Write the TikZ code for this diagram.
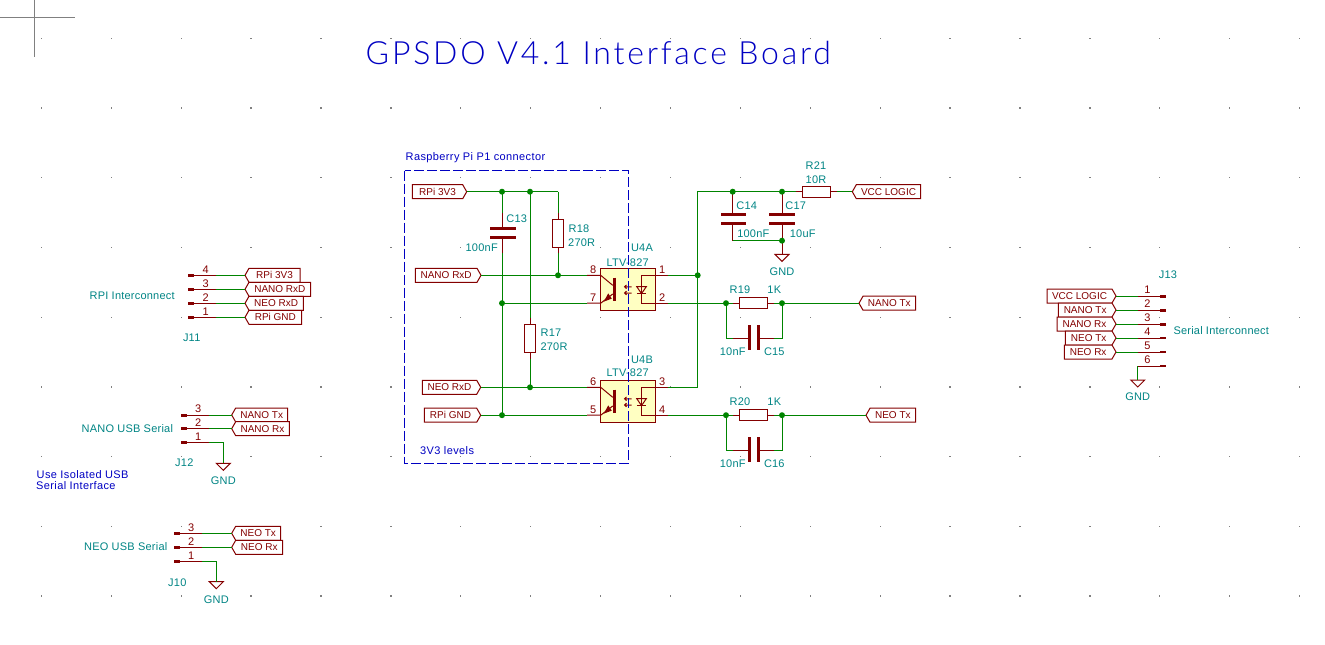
\documentclass[tikz,border=0pt]{standalone}
\usepackage{fontspec}
\setmainfont{Liberation Sans}
\newfontfamily\titlef{Lato}[UprightFont=* Light]
\definecolor{kwire}{HTML}{008400}
\definecolor{kred}{HTML}{840000}
\definecolor{kteal}{HTML}{008484}
\definecolor{kblue}{HTML}{0000C2}
\definecolor{kfill}{HTML}{FFFFC2}
\tikzset{
  wire/.style={draw=kwire,line width=1pt},
  red/.style={draw=kred,line width=1pt},
  plate/.style={draw=kred,line width=3pt},
  lab/.style={draw=kred,line width=1pt,fill=white},
  ltext/.style={text=kred,inner sep=0pt,font=\fontsize{10}{10}\selectfont},
  fld/.style={text=kteal,inner sep=0pt,font=\addfontfeatures{LetterSpace=2}\fontsize{11}{11}\selectfont},
  ptxt/.style={text=kred,inner sep=0pt,font=\fontsize{11}{11}\selectfont},
  note/.style={text=kblue,inner sep=0pt,font=\addfontfeatures{LetterSpace=3.5}\fontsize{11}{11}\selectfont},
  junc/.style={fill=kwire},
  cursor/.style={draw=gray,line width=1pt},
}
% right-pointing label: name, left x, tip x, y, text
\newcommand{\lblR}[5]{%
  \draw[lab] (#2,#4-7) -- (#3-4,#4-7) -- (#3,#4) -- (#3-4,#4+7) -- (#2,#4+7) -- cycle;
  \node[ltext] (#1t) at ({(#2+#3-4)/2},#4) {#5};
  \coordinate (#1) at (#3,#4);}
% left-pointing label: name, tip x, right x, y, text
\newcommand{\lblL}[5]{%
  \draw[lab] (#2,#4) -- (#2+4,#4-7) -- (#3,#4-7) -- (#3,#4+7) -- (#2+4,#4+7) -- cycle;
  \node[ltext] (#1t) at ({(#2+4+#3)/2},#4) {#5};
  \coordinate (#1) at (#2,#4);}
% ground: name, x, y top of symbol, y text
\newcommand{\gnd}[4]{%
  \coordinate (#1) at (#2,#3);
  \draw[red] (#2-7,#3) -- (#2+7,#3) -- (#2,#3+7) -- cycle;
  \node[fld] (#1t) at (#2,#4) {GND};}
% connector pin: name, thick-end x, pin inner x, y, number, num x
\newcommand{\cpin}[6]{%
  \coordinate (#1) at (#3,#4);
  \coordinate (#1e) at (#2,#4);
  \draw[red] (#1) -- (#1e);
  \node[ptxt] (#1n) at (#6,#4-6) {#5};}
\newcommand{\junct}[1]{\fill[junc] (#1) circle (3pt);}
% optocoupler: prefix, vertical shift, pin numbers
\newcommand{\opto}[6]{%
 \begin{scope}[yshift=-#2pt]
  \node[draw=kred,line width=1pt,fill=kfill,minimum width=55pt,minimum height=42pt,inner sep=0pt] (#1) at (628.2,289.3) {};
  \coordinate (#1a) at (587,275.3);\coordinate (#1ai) at (600.7,275.3);
  \coordinate (#1b) at (587,303.2);\coordinate (#1bi) at (600.7,303.2);
  \coordinate (#1c) at (668.3,275.3);\coordinate (#1ci) at (641.2,275.3);
  \coordinate (#1d) at (668.3,303.2);\coordinate (#1di) at (641.2,303.2);
  \draw[red] (#1a) -- (#1ai) -- (612.7,285.3);
  \draw[red] (#1b) -- (#1bi) -- (612.7,294);
  \draw[plate] (614,277.5) -- (614,300.7);
  \fill[kred] (603.8,301.6) -- (608.2,293.4) -- (611.8,298.6) -- cycle;
  \draw[red] (#1c) -- (#1ci) -- (#1di) -- (#1d);
  \draw[red] (636.8,286.7) -- (646.3,286.7) -- (641.5,293.6) -- cycle;
  \draw[red] (636.8,293.6) -- (646.3,293.6);
  \draw[red] (624.5,286.8) -- (631.5,286.8) (626.5,285) -- (624.5,286.8) -- (626.5,288.6);
  \draw[red] (624.5,293) -- (631.5,293) (626.5,291.2) -- (624.5,293) -- (626.5,294.8);
  \node[ptxt] (#1n1) at (593.3,270) {#3};
  \node[ptxt] (#1n2) at (593.3,298) {#4};
  \node[ptxt] (#1n3) at (662.3,270) {#5};
  \node[ptxt] (#1n4) at (662.3,298) {#6};
 \end{scope}}
% R19 / C15 and R20 / C16
\newcommand{\rcblock}[6]{%
  \coordinate (#1ja) at (726,#2);\coordinate (#1jb) at (782,#2);
  \coordinate (#1ca) at (726,#2+35);\coordinate (#1cb) at (782,#2+35);
  \coordinate (#1la) at (733,#2);\coordinate (#1lb) at (774,#2);
  \coordinate (#1ma) at (733,#2+35);\coordinate (#1mb) at (774,#2+35);
  \node[draw=kred,line width=1pt,minimum width=28.4pt,minimum height=11pt,inner sep=0pt] (#1r) at (753.5,#2) {};
  \draw[red] (#1la) -- (#1r.west);\draw[red] (#1r.east) -- (#1lb);
  \draw[wire] (#1ja) -- (#1la);\draw[wire] (#1lb) -- (#1jb);
  \draw[wire] (#1ja) -- (#1ca) -- (#1ma);\draw[wire] (#1mb) -- (#1cb) -- (#1jb);
  \draw[red] (#1ma) -- (749.3,#2+35);\draw[red] (758.3,#2+35) -- (#1mb);
  \draw[plate] (749.3,#2+22) -- (749.3,#2+47);\draw[plate] (758.3,#2+22) -- (758.3,#2+47);
  \node[fld] (#1t) at (740,#2-13.7) {#3};
  \node[fld] (#1v) at (774.3,#2-13.7) {1K};
  \node[fld] (#1ct) at (732.7,#2+49) {10nF};
  \node[fld] (#1cv) at (774.3,#2+49) {#4};
  \lblL{#1o}{#5}{915.7}{#2}{#6}
  \draw[wire] (#1jb) -- (#1o);
  \junct{#1ja}\junct{#1jb}}
\begin{document}
\begin{tikzpicture}[x=1pt,y=-1pt]
\useasboundingbox (0,0) rectangle (1325,645);
% sheet grid
\foreach \i in {0,...,18}{\foreach \j in {0,...,8}{
  \fill[gray] ({41.3+69.9*\i-.6},{38.3+69.7*\j-.6}) rectangle ++(1.3,1.3);}}
% cursor
\coordinate (ch1) at (0,17.3);\coordinate (ch2) at (75,17.3);
\coordinate (cv1) at (34.3,0);\coordinate (cv2) at (34.3,56.7);
\draw[cursor] (ch1) -- (ch2);\draw[cursor] (cv1) -- (cv2);
% title
\node[text=kblue,inner sep=0pt,anchor=west] (title) at (365.5,52.5)
  {\titlef\addfontfeatures{LetterSpace=8.7}\fontsize{32}{32}\selectfont GPSDO V4.1 Interface Board};
\node[note,anchor=west] (nrpi) at (405.5,158) {Raspberry Pi P1 connector};
\node[note,anchor=west] (n3v3) at (420,451) {3V3 levels};
\node[note,anchor=west] (niso1) at (36.5,475) {Use Isolated USB};
\node[note,anchor=west] (niso2) at (36,486) {Serial Interface};

% ---- left-hand labels
\lblR{lrpi}{412.3}{466.7}{191.7}{RPi 3V3}
\lblR{lnrx}{415.3}{481}{275.3}{NANO RxD}
\lblR{lnerx}{422.3}{480.7}{387.3}{NEO RxD}
\lblR{lgnd}{424.3}{480.7}{415.2}{RPi GND}

% optos
\opto{ua}{0}{8}{7}{1}{2}
\opto{ub}{112}{6}{5}{3}{4}
\node[fld] (uar) at (642,247.3) {U4A};
\node[fld] (uav) at (627.7,262.3) {LTV-827};
\node[fld] (ubr) at (642,359.3) {U4B};
\node[fld] (ubv) at (627.7,372.7) {LTV-827};

% junctions and points
\coordinate (j1) at (502,191.7);\coordinate (j2) at (530,191.7);\coordinate (k1) at (558,191.7);
\coordinate (j3) at (558,275.3);\coordinate (j4) at (502,303.2);
\coordinate (j5) at (530,387.3);\coordinate (j6) at (502,415.2);

% C13
\coordinate (c13a) at (502,213.3);\coordinate (c13p) at (502,228.3);
\coordinate (c13q) at (502,237.3);\coordinate (c13b) at (502,253.3);
\draw[wire] (j1) -- (c13a);\draw[wire] (c13b) -- (j4);\draw[wire] (j4) -- (j6);
\draw[red] (c13a) -- (c13p);\draw[red] (c13q) -- (c13b);
\draw[plate] (490,228.3) -- (516,228.3);\draw[plate] (490,237.3) -- (516,237.3);
\node[fld] (c13t) at (516.7,219) {C13};
\node[fld] (c13v) at (481.7,247.3) {100nF};
% R18
\coordinate (r18a) at (558,213);\coordinate (r18b) at (558,253.3);
\node[draw=kred,line width=1pt,minimum width=11pt,minimum height=28pt,inner sep=0pt] (r18) at (558,233.3) {};
\draw[wire] (k1) -- (r18a);\draw[red] (r18a) -- (r18.north);
\draw[red] (r18.south) -- (r18b);\draw[wire] (r18b) -- (j3);
\node[fld] (r18t) at (579,229) {R18};
\node[fld] (r18v) at (581.7,243) {270R};
% R17
\coordinate (r17a) at (530,318);\coordinate (r17b) at (530,358.5);
\node[draw=kred,line width=1pt,minimum width=11pt,minimum height=28pt,inner sep=0pt] (r17) at (530,338.3) {};
\draw[wire] (j2) -- (r17a);\draw[red] (r17a) -- (r17.north);
\draw[red] (r17.south) -- (r17b);\draw[wire] (r17b) -- (j5);
\node[fld] (r17t) at (551,333) {R17};
\node[fld] (r17v) at (554,347) {270R};
% input wires
\draw[wire] (lrpi) -- (k1);
\draw[wire] (lnrx) -- (uaa);
\draw[wire] (j4) -- (uab);
\draw[wire] (lnerx) -- (uba);
\draw[wire] (lgnd) -- (ubb);
\foreach \p in {j1,j2,j3,j4,j5,j6}{\junct{\p}}

% ---- right part
\coordinate (v1) at (697.7,191.7);\coordinate (v2) at (697.7,275.3);\coordinate (v3) at (697.7,387.3);
\coordinate (t1) at (732.7,191.7);\coordinate (t2) at (782,191.7);
\coordinate (t3) at (782,240.7);\coordinate (t4) at (732.7,240.7);
\draw[wire] (uac) -- (v2);\draw[wire] (ubc) -- (v3) -- (v1) -- (t2);
% R21
\node[draw=kred,line width=1pt,minimum width=28pt,minimum height=11pt,inner sep=0pt] (r21) at (816.3,191.7) {};
\coordinate (r21a) at (795.7,191.7);\coordinate (r21b) at (837,191.7);
\draw[wire] (t2) -- (r21a);\draw[red] (r21a) -- (r21.west);\draw[red] (r21.east) -- (r21b);
\lblL{lvcc}{852.3}{920.7}{191.7}{VCC LOGIC}
\draw[wire] (r21b) -- (lvcc);
\node[fld] (r21t) at (816,166) {R21};
\node[fld] (r21v) at (816,179.3) {10R};
% C14 C17
\draw[red] (t1) -- (732.7,214);\draw[red] (732.7,223.3) -- (t4);
\draw[red] (t2) -- (782,214);\draw[red] (782,223.3) -- (t3);
\draw[plate] (721,214) -- (746,214);\draw[plate] (721,223.3) -- (746,223.3);
\draw[plate] (769.3,214) -- (795,214);\draw[plate] (769.3,223.3) -- (795,223.3);
\draw[wire] (t4) -- (t3);
\node[fld] (c14t) at (746.7,205.3) {C14};
\node[fld] (c17t) at (795.7,205.3) {C17};
\node[fld] (c14v) at (753.3,233.3) {100nF};
\node[fld] (c17v) at (802.7,233.3) {10uF};
\gnd{g1}{782}{254.3}{272}
\draw[red] (t3) -- (g1);
\rcblock{aa}{303.2}{R19}{C15}{859}{NANO Tx}
\rcblock{bb}{415.2}{R20}{C16}{866}{NEO Tx}
\draw[wire] (uad) -- (aaja);
\draw[wire] (ubd) -- (bbja);
\foreach \p in {v2,t1,t2,t3}{\junct{\p}}

% ---- J13
\lblR{a1}{1047}{1116}{296}{VCC LOGIC}
\lblR{a2}{1058.3}{1116}{310}{NANO Tx}
\lblR{a3}{1057}{1116}{324}{NANO Rx}
\lblR{a4}{1065.3}{1116}{338}{NEO Tx}
\lblR{a5}{1064.3}{1116}{352}{NEO Rx}
\foreach \n/\yy/\w in {1/296/3,2/310/3,3/324/3,4/338/2,5/352/2,6/366/2}{
  \cpin{p\n}{1166}{1137.7}{\yy}{\n}{1147.3}
  \draw[kred,line width=\w pt] (1160,\yy) -- (1166,\yy);
}
\foreach \n in {1,...,5}{\draw[wire] (a\n) -- (p\n);}
\gnd{g2}{1137.7}{380}{397}
\draw[wire] (p6) -- (g2);
\node[fld] (j13) at (1168,275) {J13};
\node[fld,anchor=west] (j13n) at (1173.3,331) {Serial Interconnect};

% ---- J11
\lblL{b4}{245}{300}{275.3}{RPi 3V3}
\lblL{b3}{245}{310.7}{289.3}{NANO RxD}
\lblL{b2}{245}{303.3}{303.3}{NEO RxD}
\lblL{b1}{245}{301.7}{317.3}{RPi GND}
\foreach \n/\yy in {4/275.3,3/289.3,2/303.3,1/317.3}{
  \cpin{q\n}{188.3}{216}{\yy}{\n}{205.7}
  \draw[kred,line width=3pt] (188.3,\yy) -- (194.3,\yy);
  \draw[wire] (q\n) -- (b\n);
}
\node[fld,anchor=west] (j11n) at (89.5,296) {RPI Interconnect};
\node[fld] (j11) at (191.7,338) {J11};

% ---- J12
\lblL{c3}{231.7}{287.7}{415}{NANO Tx}
\lblL{c2}{231.7}{289.3}{428.7}{NANO Rx}
\foreach \n/\yy in {3/415,2/428.7,1/442.7}{
  \cpin{r\n}{181}{209}{\yy}{\n}{198.3}
  \draw[kred,line width=3pt] (181,\yy) -- (187,\yy);
}
\draw[wire] (r3) -- (c3);\draw[wire] (r2) -- (c2);
\gnd{g3}{223.3}{463.3}{481}
\draw[wire] (r1) -| (g3);
\node[fld,anchor=west] (j12n) at (81.5,429) {NANO USB Serial};
\node[fld] (j12) at (184.3,463) {J12};

% ---- J10
\lblL{d3}{231.7}{280.7}{533.3}{NEO Tx}
\lblL{d2}{231.7}{282.7}{547.3}{NEO Rx}
\foreach \n/\yy in {3/533.3,2/547.3,1/561.3}{
  \cpin{s\n}{174.3}{202.3}{\yy}{\n}{191.3}
  \draw[kred,line width=3pt] (174.3,\yy) -- (180.3,\yy);
}
\draw[wire] (s3) -- (d3);\draw[wire] (s2) -- (d2);
\gnd{g4}{216.3}{581.7}{600}
\draw[wire] (s1) -| (g4);
\node[fld,anchor=west] (j10n) at (84,547) {NEO USB Serial};
\node[fld] (j10) at (177.3,582.3) {J10};

% ---- dashed frame
\coordinate (f1) at (404.7,170.7);\coordinate (f2) at (628.7,463.3);
\draw[kblue,line width=1.2pt,dash pattern=on 10pt off 3pt] (f1) rectangle (f2);
\end{tikzpicture}
\end{document}
